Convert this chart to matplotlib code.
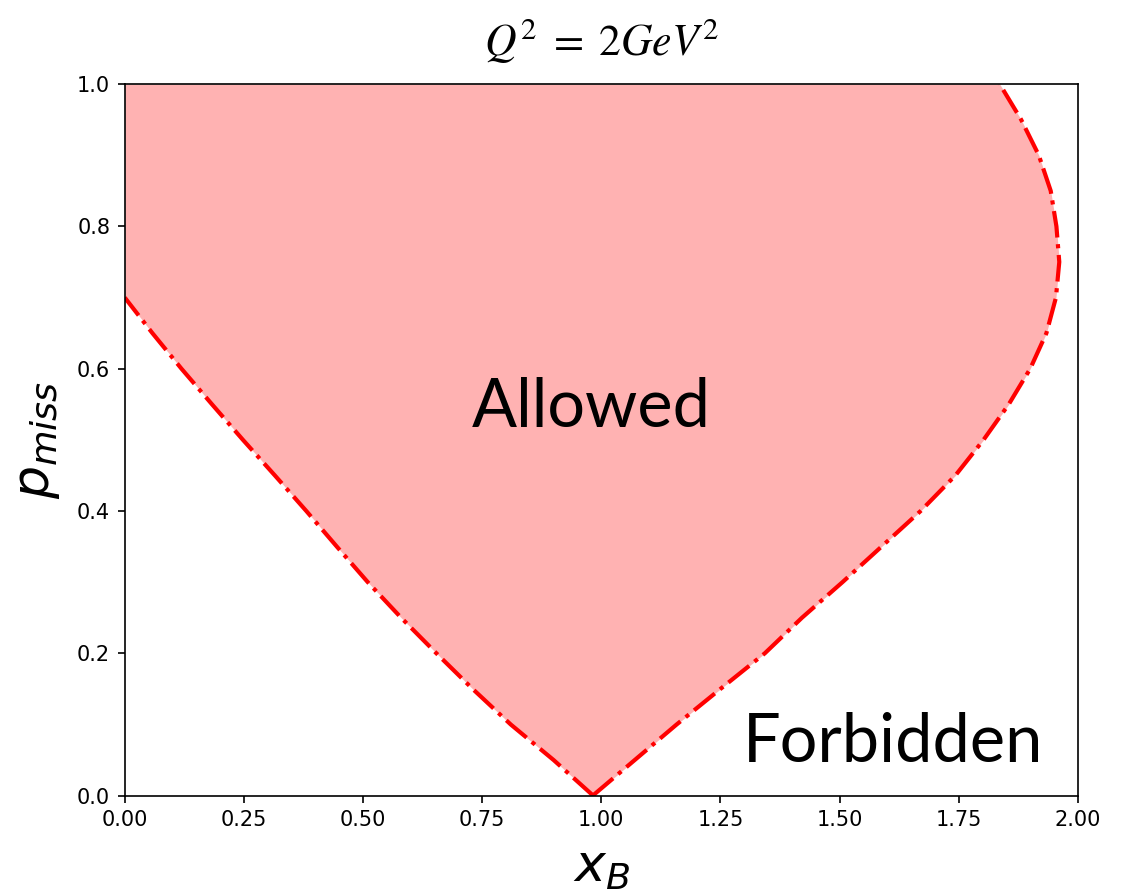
import numpy as np
import matplotlib
matplotlib.use('Agg')
import matplotlib.pyplot as plt

plt.rcParams['mathtext.it'] = 'Lato:italic'
plt.rcParams['mathtext.rm'] = 'Lato'

# p_miss values and the two x_B edges of the allowed region
p_miss = [0.0, 0.05, 0.1, 0.15, 0.2, 0.25, 0.3, 0.35, 0.4, 0.45, 0.5, 0.55,
          0.6, 0.65, 0.7, 0.75, 0.8, 0.85, 0.9, 0.95, 1.0]
x_low = [0.983, 0.90, 0.81, 0.73, 0.654, 0.58, 0.51, 0.445, 0.381, 0.315,
         0.248, 0.183, 0.119, 0.058, 0.0]
x_high = [0.982, 1.07, 1.158, 1.25, 1.343, 1.421, 1.506, 1.588, 1.670, 1.743,
          1.802, 1.855, 1.900, 1.934, 1.954, 1.961, 1.955, 1.943, 1.918, 1.881, 1.836]

p_low = p_miss[:len(x_low)]
# left edge leaves the axes at p_miss ~ 0.7, fill from x = 0 above that
x_fill_low = x_low + [0.0] * (len(p_miss) - len(x_low))

fig, ax = plt.subplots(figsize=(7.493, 5.967), dpi=150)
fig.subplots_adjust(left=0.111, right=0.959, bottom=0.111, top=0.906)

ax.fill_betweenx(p_miss, x_fill_low, x_high, color='red', alpha=0.3, linewidth=0)
ax.plot(x_low, p_low, color='red', linestyle='-.', linewidth=2)
ax.plot(x_high, p_miss, color='red', linestyle='-.', linewidth=2)

ax.set_xlim(0, 2)
ax.set_ylim(0, 1)

ax.text(0.98, 0.545, 'Allowed', fontsize=32, family='Lato', ha='center', va='center')
ax.text(1.612, 0.074, 'Forbidden', fontsize=32, family='Lato', ha='center', va='center')

ax.set_xlabel('$x_B$', fontsize=25, labelpad=6)
ax.set_ylabel('$p_{miss}$', fontsize=25, labelpad=7)
ax.set_title('$Q^2\\;=\\;2GeV^2$', fontsize=21, pad=14, math_fontfamily='stix')

plt.savefig('out.png', dpi=150)
plt.close(fig)
